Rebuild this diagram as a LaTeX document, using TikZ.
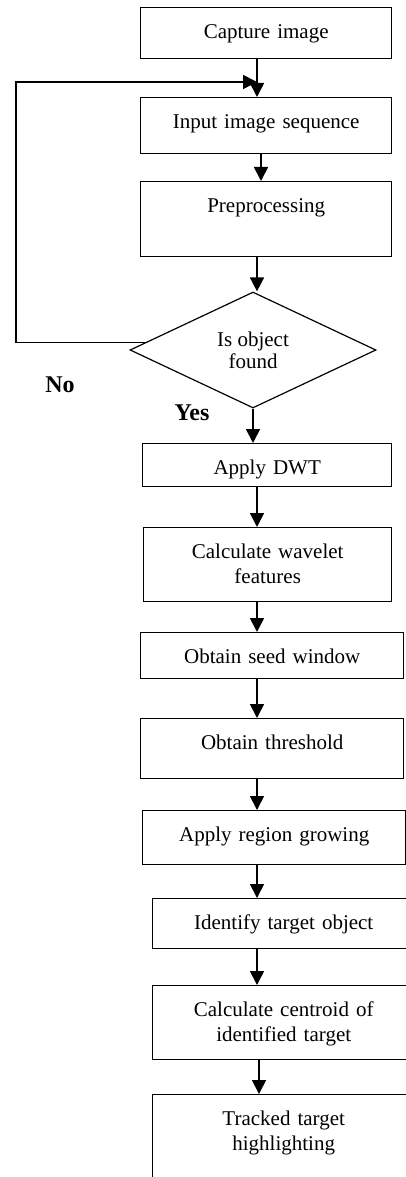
\documentclass[tikz,border=0pt]{standalone}
\usepackage{fontspec}
\setmainfont{Liberation Serif}
\usetikzlibrary{positioning, arrows.meta, shapes.geometric}

\tikzset{
	stage/.style={draw, line width=1.4pt, rectangle, anchor=north west, inner sep=0pt,
		align=center, text height=31pt, font=\fontsize{21}{25}\selectfont},
	test/.style={draw, line width=1.2pt, diamond, inner sep=0pt, align=center,
		minimum width=246pt, minimum height=116pt, font=\fontsize{21}{22}\selectfont},
	answer/.style={font=\fontsize{24}{24}\selectfont\bfseries},
	flow/.style={line width=1.7pt, -{Triangle[length=14pt, width=14pt]}}
}

\begin{document}
\begin{tikzpicture}[x=1pt, y=-1pt]
		
		\useasboundingbox (0,0) rectangle (406,1177);
		\clip (0,0) rectangle (406,1177);
		
		\node (cap) [stage, text width=251pt, text depth=20pt] at (140,7) {Capture image};
		\node (inp) [stage, text width=251pt, text depth=25pt] at (140,97) {Input image sequence};
		\node (pre) [stage, text width=251pt, text depth=44pt] at (140,181) {Preprocessing};
		\node (dec) [test] at (253,350) {Is object\\found};
		\node (dwt) [stage, text width=249pt, text depth=12pt] at (142,443) {Apply DWT};
		\node (wav) [stage, text width=248pt, text depth=43pt] at (143,527) {Calculate wavelet\\features};
		\node (seed) [stage, text width=263pt, text depth=15pt] at (140,632) {Obtain seed window};
		\node (thr) [stage, text width=263pt, text depth=29pt] at (140,718) {Obtain threshold};
		\node (grow) [stage, text width=263pt, text depth=23pt] at (142,810) {Apply region growing};
		\node (iden) [stage, text width=262pt, text depth=19pt] at (152,898) {Identify target object};
		\node (cent) [stage, text width=262pt, text depth=43pt] at (152,985) {Calculate centroid of\\identified target};
		\node (hil) [stage, text width=262pt, text depth=90pt] at (152,1094) {Tracked target\\highlighting};
		
		\node (no) [answer] at (60,385) {No};
		\node (yes) [answer] at (192,413) {Yes};
		
		\coordinate (spine) at (257,0);
		\coordinate (merge) at (257,82);
		\coordinate (back) at (16,82);
		
		% main line
		\draw[flow] (cap.south -| spine) -- (inp.north -| spine);
		\draw[flow] ([xshift=4pt]inp.south -| spine) -- ([xshift=4pt]pre.north -| spine);
		\draw[flow] (pre.south -| spine) -- (dec.north -| spine);
		\draw[flow] (dec.south) -- (dwt.north -| dec.south);
		\draw[flow] (dwt.south -| spine) -- (wav.north -| spine);
		\draw[flow] (wav.south -| spine) -- (seed.north -| spine);
		\draw[flow] (seed.south -| spine) -- (thr.north -| spine);
		\draw[flow] (thr.south -| spine) -- (grow.north -| spine);
		\draw[flow] (grow.south -| spine) -- (iden.north -| spine);
		\draw[flow] (iden.south -| spine) -- (cent.north -| spine);
		\draw[flow] ([xshift=2pt]cent.south -| spine) -- ([xshift=2pt]hil.north -| spine);
		
		% no object: back to the input
		\draw[flow] (dec.176) -| (back) -- (merge);
		
\end{tikzpicture}
\end{document}
